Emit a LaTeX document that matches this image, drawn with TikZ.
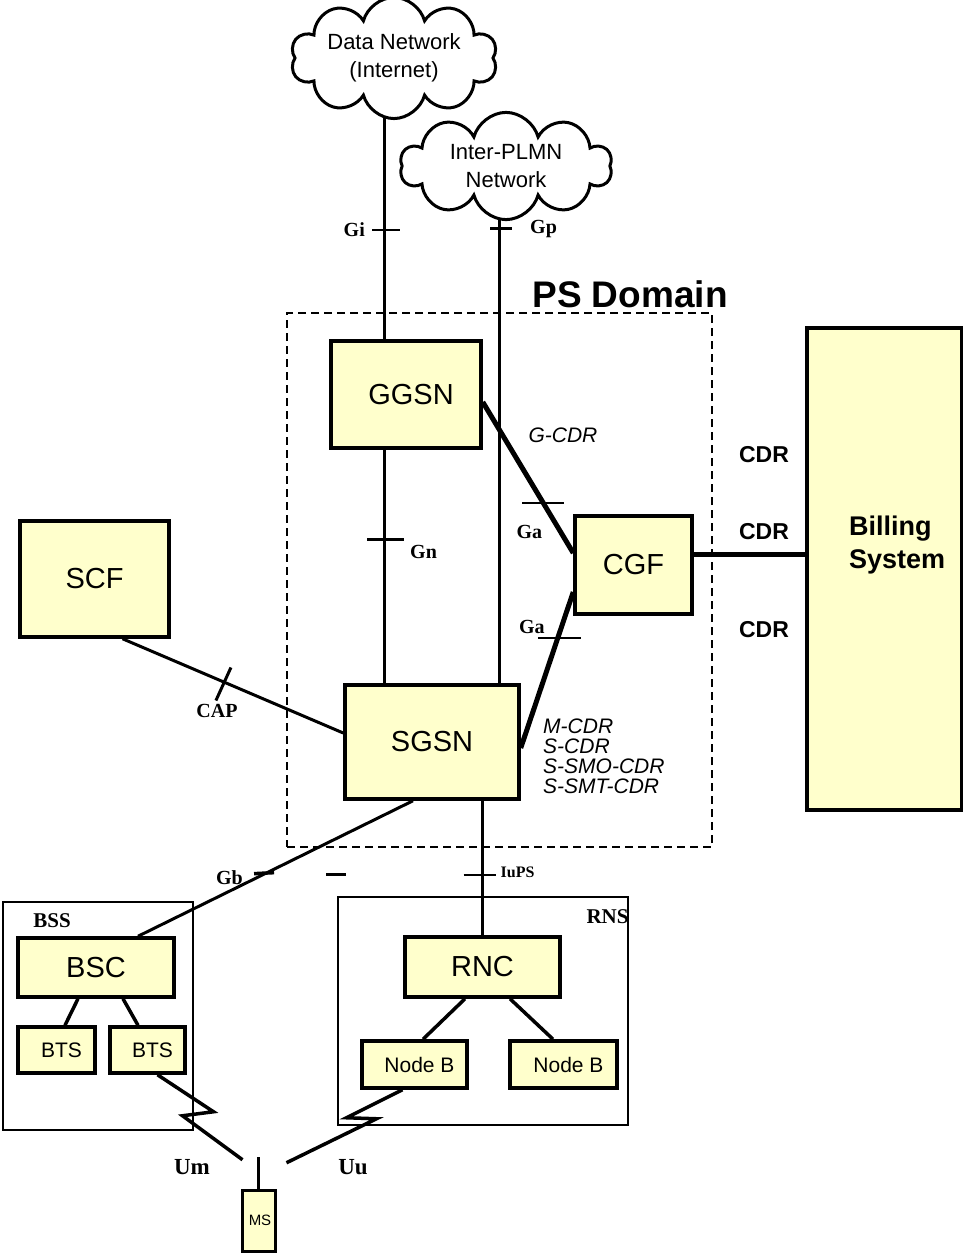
\documentclass[tikz,border=0pt]{standalone}
\usepackage{fontspec}
\setmainfont{Liberation Sans}
\newfontfamily\ifacefont{Liberation Serif}
\usetikzlibrary{positioning, shapes.symbols, backgrounds}
\definecolor{boxfill}{HTML}{FFFFCC}
\tikzset{
  netbox/.style={draw, line width=3.5pt, fill=boxfill, inner sep=0pt,
    font=\fontsize{29}{34}\selectfont}, % big network elements
  smallbox/.style={netbox, font=\fontsize{21}{25}\selectfont}, % BTS, Node B, MS
  netcloud/.style={cloud, draw, line width=3pt, fill=white, cloud puffs=10,
    cloud ignores aspect, align=center, font=\fontsize{22}{28}\selectfont},
  link/.style={line width=3pt}, % plain connection
  heavy/.style={line width=5pt}, % charging connection
  tick/.style={line width=2.2pt}, % interface mark
  iface/.style={font=\ifacefont\bfseries\fontsize{#1}{#1}\selectfont, inner sep=0pt},
  iface/.default=20,
  cdr/.style={font=\bfseries\fontsize{23}{23}\selectfont, inner sep=0pt},
  frame/.style={draw, line width=1.5pt, inner sep=0pt},
}
\begin{document}
\begin{tikzpicture}[x=1pt, y=-1pt]
	\useasboundingbox (0,0) rectangle (963,1253);

	% external networks
	\node[netcloud, minimum width=178pt, minimum height=110pt] (dn) at (394,58) {Data Network\\(Internet)};
	\node[netcloud, minimum width=212pt, minimum height=102pt] (plmn) at (506,166) {Inter-PLMN\\Network};

	% PS domain
	\node[draw, line width=2.5pt, dash pattern=on 8pt off 5pt, minimum width=425pt, minimum height=534pt] (ps) at (499.5,580) {};
	\node[font=\bfseries\fontsize{37}{37}\selectfont, inner sep=0pt] (psLbl) at (630,294) {PS Domain};

	\node[netbox, minimum width=150pt, minimum height=107pt] (ggsn) at (406,394.5) {\hspace{10pt}GGSN};
	\node[netbox, minimum width=149pt, minimum height=116pt] (scf) at (94.5,579) {SCF};
	\node[netbox, minimum width=117pt, minimum height=98pt] (cgf) at (633.5,565) {CGF};
	\node[netbox, minimum width=174pt, minimum height=114pt] (sgsn) at (432,742) {SGSN};
	\node[netbox, minimum width=155pt, minimum height=482pt] (bill) at (884.5,569) {};
	\node[anchor=west, align=left, inner sep=0pt, font=\bfseries\fontsize{27}{33}\selectfont] (billTxt) at (849,545) {Billing\\System};

	\node[cdr] (cdr1) at (764,455) {CDR};
	\node[cdr] (cdr2) at (764,532) {CDR};
	\node[cdr] (cdr3) at (764,630) {CDR};
	\node[font=\itshape\fontsize{21}{21}\selectfont, inner sep=0pt] (gcdr) at (563,435) {G-CDR};
	\node[anchor=north west, align=left, inner sep=0pt, font=\itshape\fontsize{21}{20}\selectfont] (scdr) at (543,719) {M-CDR\\S-CDR\\S-SMO-CDR\\S-SMT-CDR};

	% access networks
	\node[frame, minimum width=190pt, minimum height=228pt] (bss) at (98,1016) {};
	\node[frame, minimum width=290pt, minimum height=228pt] (rns) at (483,1011) {};
	\node[iface=21, below right=12pt and 31pt of bss.north west] (bssLbl) {BSS};
	\node[iface=21, below left=13pt and 0pt of rns.north east] (rnsLbl) {RNS};

	\node[netbox, minimum width=156pt, minimum height=59pt] (bsc) at (96,967.5) {BSC};
	\node[smallbox, minimum width=77pt, minimum height=46pt] (bts1) at (56.5,1050) {\hspace{10pt}BTS};
	\node[smallbox, minimum width=75pt, minimum height=46pt] (bts2) at (147.5,1050) {\hspace{10pt}BTS};
	\node[netbox, minimum width=155pt, minimum height=60pt] (rnc) at (482.5,967) {RNC};
	\node[smallbox, minimum width=105pt, minimum height=47pt] (nb1) at (414.5,1064.5) {\hspace{10pt}Node B};
	\node[smallbox, minimum width=107pt, minimum height=47pt] (nb2) at (563.5,1064.5) {\hspace{10pt}Node B};
	\node[smallbox, line width=3pt, minimum width=33pt, minimum height=61pt, font=\fontsize{15}{15}\selectfont] (ms) at (258.5,1220.5) {\hspace{3pt}MS};

	% connections
	\begin{scope}[on background layer]
		\coordinate (gix) at (384,0);
		\coordinate (gpx) at (499,0);
		\draw[link] (dn.center -| gix) -- coordinate[pos=0.611] (giT) (ggsn.north -| gix);
		\draw[link] (plmn.center -| gpx) -- coordinate[pos=0.121] (gpT) (sgsn.north -| gpx);
		\draw[link] (ggsn.south -| gix) -- coordinate[pos=0.384] (gnT) (sgsn.north -| gix);
		\draw[heavy] ([yshift=-7.5pt]ggsn.east) -- coordinate[pos=0.67] (ga1T) ([yshift=12pt]cgf.west);
		\draw[heavy] ([yshift=-6pt]sgsn.east) -- coordinate[pos=0.705] (ga2T) ([yshift=-27pt]cgf.west);
		\draw[heavy] ([yshift=11pt]cgf.east) -- ([yshift=11pt]cgf.east -| bill.west);
		\draw[link] ([xshift=28pt]scf.south) -- coordinate[pos=0.464] (capT) ([yshift=9pt]sgsn.west);
		\draw[link] ([xshift=-19pt]sgsn.south) -- coordinate[pos=0.538] (gbT) ([xshift=42pt]bsc.north);
		\draw[link] (rnc.north |- sgsn.south) -- coordinate[pos=0.572] (iuT) (rnc.north);
		\draw[link, line width=3.5pt] ([xshift=-18pt]bsc.south) -- ([xshift=8.5pt]bts1.north);
		\draw[link, line width=3.5pt] ([xshift=27pt]bsc.south) -- ([xshift=-9.5pt]bts2.north);
		\draw[link, line width=3.5pt] ([xshift=-17.5pt]rnc.south) -- ([xshift=8.5pt]nb1.north);
		\draw[link, line width=3.5pt] ([xshift=27.5pt]rnc.south) -- ([xshift=-10.5pt]nb2.north);
		% radio links
		\draw[link, line width=3.5pt] ([xshift=10pt]bts2.south) -- ++(56,37) -- ++(-31,4) -- ++(60,44) coordinate (umEnd);
		\draw[link, line width=3.5pt] ([xshift=-12pt]nb1.south) -- ++(-56,28) -- ++(30,1) -- ++(-90,44) coordinate (uuEnd);
		\draw[link] (ms.north) -- ++(0,-32) coordinate (msAnt);
	\end{scope}

	% interface marks
	\draw[tick] (giT) ++(-12,0) -- ++(28,0);
	\draw[tick] (gpT) ++(-9,0) -- ++(22,0);
	\draw[tick] (gnT) ++(-17,0) -- ++(37,0);
	\draw[tick] (ga1T) ++(-21,0) -- ++(42,0);
	\draw[tick] (ga2T) ++(-20,0) -- ++(43,0);
	\draw[tick, line width=3pt] (capT) ++(6,-15) -- ++(-15,33);
	\draw[tick, line width=3.5pt] (gbT) ++(-11,0) -- ++(20,-1);
	\draw[tick, line width=3.5pt] (gbT) ++(61,1) -- ++(20,0);
	\draw[tick] (iuT) ++(-19,-3) -- ++(32,0);

	\node[iface, left=19pt of giT] (giLbl) {Gi};
	\node[iface, right=31pt of gpT] (gpLbl) {Gp};
	\node[iface, below right=6pt and 26pt of gnT] (gnLbl) {Gn};
	\node[iface, below left=22pt and 1pt of ga1T] (ga1Lbl) {Ga};
	\node[iface, above left=4pt and 13pt of ga2T] (ga2Lbl) {Ga};
	\node[iface, below=22pt of capT, xshift=-8pt] (capLbl) {CAP};
	\node[iface, left=22pt of gbT, yshift=-4pt] (gbLbl) {Gb};
	\node[iface=16, right=18pt of iuT, yshift=5pt] (iuLbl) {IuPS};
	\node[iface=23] (umLbl) at (192,1167) {Um};
	\node[iface=23] (uuLbl) at (353,1167) {Uu};
\end{tikzpicture}
\end{document}
